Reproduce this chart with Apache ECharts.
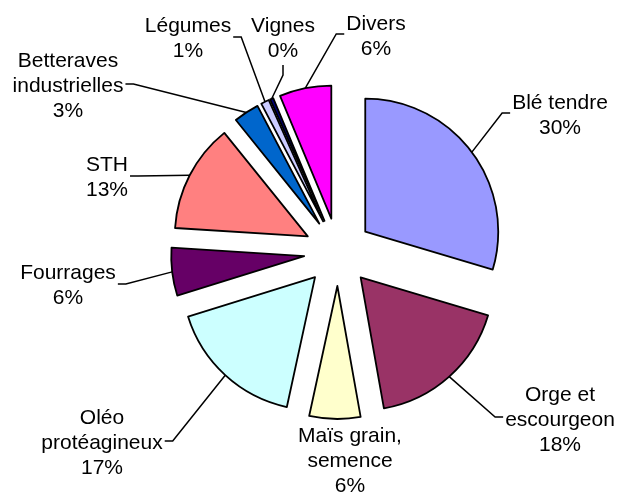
<!DOCTYPE html>
<html><head><meta charset="utf-8">
<script src="https://cdn.jsdelivr.net/npm/echarts@6/dist/echarts.min.js"></script>
<style>html,body{margin:0;padding:0;background:#fff}#c{width:617px;height:497px}</style>
</head><body><div id="c"></div>
<script>
const categories = ['Blé tendre', 'Orge et\nescourgeon', 'Maïs grain,\nsemence', 'Oléo\nprotéagineux', 'Fourrages', 'STH', 'Betteraves\nindustrielles', 'Légumes', 'Vignes', 'Divers'];
const values = [29.6, 17.6, 6.2, 16.8, 5.8, 13.2, 3.1, 1.0, 0.4, 6.3];
const colors = ['#9999FF', '#993366', '#FFFFCC', '#CCFFFF', '#660066', '#FF8080', '#0066CC', '#CCCCFF', '#000080', '#FF00FF'];
// label placement (layout only)
const labelCenters = [[560,116],[560,420],[350,461],[102,443],[68,286],[107,178],[68,86],[188,39],[283,39],[376,37]];
const labelSides = ['right','right','none','left','left','left','left','left','bottom','right'];

const CENTER = [338, 252], RADIUS = 133, EXPLODE = 34;
const chart = echarts.init(document.getElementById('c'), null, {renderer: 'canvas'});
const sliceData = categories.map((n, i) => ({
  name: n, value: values[i], selected: true,
  itemStyle: {color: colors[i]}
}));
const labelData = categories.map((n, i) => ({
  name: n, value: values[i],
  labelLine: {show: labelSides[i] !== 'none'}
}));
const common = {
  type: 'pie', center: CENTER, radius: RADIUS, startAngle: 90, clockwise: true,
  percentPrecision: 0, avoidLabelOverlap: false,
  emphasis: {disabled: true, scale: false}
};
chart.setOption({
  animation: false,
  backgroundColor: '#fff',
  series: [
    Object.assign({}, common, {
      selectedMode: 'multiple',
      selectedOffset: EXPLODE,
      itemStyle: {borderColor: '#000', borderWidth: 1.8},
      label: {show: false},
      labelLine: {show: false},
      data: sliceData
    }),
    Object.assign({}, common, {
      silent: true,
      selectedMode: false,
      itemStyle: {color: 'rgba(0,0,0,0)', borderWidth: 0},
      label: {
        show: true,
        formatter: '{b}\n{d}%',
        fontFamily: 'Liberation Sans, Arial, sans-serif',
        fontSize: 21,
        lineHeight: 25,
        color: '#000',
        align: 'center'
      },
      labelLine: {show: true, lineStyle: {color: '#000', width: 1.5}},
      labelLayout: function (p) {
        const i = p.dataIndex;
        const c = labelCenters[i];
        const w = p.labelRect.width, h = p.labelRect.height;
        const res = {x: c[0], y: c[1], align: 'center', verticalAlign: 'middle'};
        const side = labelSides[i];
        if (side !== 'none' && p.labelLinePoints) {
          const a = p.labelLinePoints[0];
          const vx = a[0] - CENTER[0], vy = a[1] - CENTER[1];
          const len = Math.sqrt(vx * vx + vy * vy) || 1;
          const s = [a[0] + vx / len * EXPLODE, a[1] + vy / len * EXPLODE];
          let e, m;
          if (side === 'right') { e = [c[0] - w / 2 - 2, c[1] - 3]; m = [e[0] - 8, e[1]]; }
          else if (side === 'left') { e = [c[0] + w / 2 + 2, c[1] - 2]; m = [e[0] + 8, e[1]]; }
          else { e = [c[0], c[1] + h / 2 + 1]; m = [e[0], e[1] + 10]; }
          res.labelLinePoints = [s, m, e];
        }
        return res;
      },
      data: labelData
    })
  ]
});
</script></body></html>
